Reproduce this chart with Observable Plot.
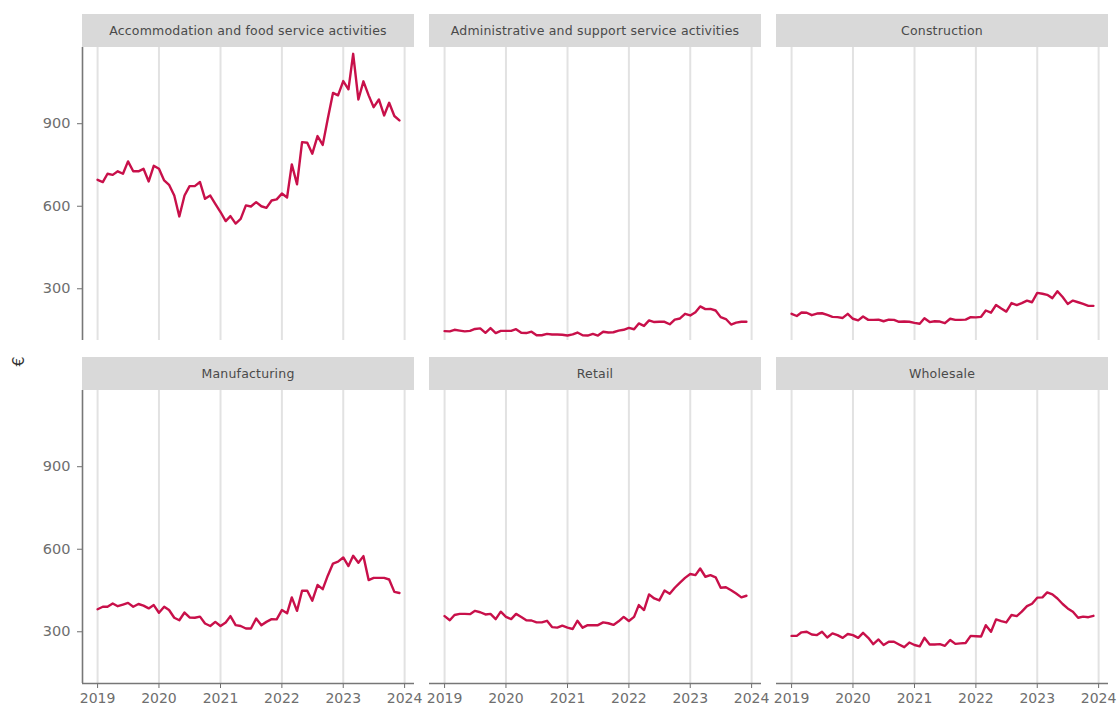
<!DOCTYPE html>
<html><head><meta charset="utf-8">
<script src="https://cdn.jsdelivr.net/npm/d3@7"></script>
<script src="https://cdn.jsdelivr.net/npm/@observablehq/plot@0.6"></script>
<style>
body{margin:0;background:#fff;font-family:"DejaVu Sans",sans-serif;}
#chart{position:relative;width:1120px;height:707px;overflow:hidden;}
.strip{position:absolute;background:#d9d9d9;color:#4a4a4a;font-size:12.5px;letter-spacing:0.2px;display:flex;align-items:center;justify-content:center;white-space:nowrap;}
.panel{position:absolute;}
.panel svg{max-width:none !important;}
.ylab{position:absolute;left:8px;top:352px;font-size:16px;color:#333;transform:rotate(-90deg);transform-origin:center;width:20px;text-align:center;}
</style></head><body><div id="chart"></div>
<script>
// ---- data ----
const sectors = [
  "Accommodation and food service activities",
  "Administrative and support service activities",
  "Construction",
  "Manufacturing",
  "Retail",
  "Wholesale"
];
const startYear = 2019; // monthly values from Jan 2019 to Dec 2023
const accommodation = [696,688,718,714,727,718,763,727,727,736,690,747,
  736,694,678,639,563,639,673,673,688,627,639,609,
  579,546,564,537,554,603,599,615,600,594,621,625,
  646,632,752,680,833,831,791,855,823,918,1012,1003,
  1055,1025,1154,988,1054,1003,960,988,930,976,928,912];
const administrative = [146,145,151,148,145,147,154,156,140,157,139,147,
  147,147,153,140,139,144,131,131,136,134,134,133,
  130,134,141,131,130,136,130,144,141,142,148,151,
  158,153,174,165,185,179,180,180,171,188,192,209,
  203,215,236,226,227,221,197,190,170,177,180,180];
const construction = [209,201,214,213,204,210,211,205,198,197,194,209,
  191,185,199,187,187,188,182,188,187,180,181,180,
  176,173,193,179,182,181,175,191,187,187,188,197,
  196,198,221,213,241,228,217,248,241,248,257,251,
  285,282,278,266,291,270,245,257,251,245,238,238];
const manufacturing = [382,391,391,403,393,399,405,391,401,395,385,397,
  369,391,379,351,342,370,352,351,355,330,321,336,
  321,334,357,324,321,312,312,348,324,336,346,345,
  379,367,425,376,449,449,413,470,455,504,548,555,
  570,539,576,551,575,488,496,496,496,490,445,441];
const retail = [357,342,361,365,365,364,376,371,363,365,346,373,
  354,346,365,354,342,341,334,334,340,317,315,322,
  315,310,340,315,324,324,324,334,331,325,338,354,
  339,354,397,379,436,421,414,450,438,460,479,496,
  510,506,530,500,506,498,460,462,451,439,425,431];
const wholesale = [285,285,298,300,290,288,300,279,294,288,278,292,
  288,278,296,278,255,272,252,264,264,254,244,261,
  252,247,278,254,254,255,249,270,256,258,259,285,
  284,283,324,300,345,339,334,361,357,373,393,402,
  424,425,443,436,421,401,385,373,351,355,353,358];
const seriesList = [accommodation, administrative, construction, manufacturing, retail, wholesale];
const yTicks = [300, 600, 900];
const yearTicks = [2019, 2020, 2021, 2022, 2023, 2024];

// ---- layout ----
const chart = document.getElementById("chart");
const colX = [82, 429, 776];
const rowY = [47, 390];
const PW = 332, PH = 293, SH = 33;
const lineColor = "#c8104a";
const fontFam = '"DejaVu Sans", sans-serif';

const yearDates = yearTicks.map(y => new Date(Date.UTC(y, 0, 1)));
const first = new Date(Date.UTC(startYear, 0, 1));
const last = new Date(Date.UTC(startYear, accommodation.length - 1, 1));
const pad = (last - first) * 0.05;
const xDomain = [new Date(+first - pad), new Date(+last + pad)];
const yDomain = [112, 1177];

sectors.forEach((name, i) => {
  const r = Math.floor(i / 3), c = i % 3;
  const showY = c === 0, showX = r === 1;
  const data = seriesList[i].map((v, k) => ({date: new Date(Date.UTC(startYear, k, 1)), value: v}));
  const ml = showY ? 70 : 0, mr = 30, mb = showX ? 25 : 0;
  const W = PW + ml + mr, H = PH + mb;

  const strip = document.createElement("div");
  strip.className = "strip";
  strip.style.left = colX[c] + "px";
  strip.style.top = (rowY[r] - SH) + "px";
  strip.style.width = PW + "px";
  strip.style.height = SH + "px";
  strip.textContent = name;
  chart.appendChild(strip);

  const svg = Plot.plot({
    width: W,
    height: H,
    marginLeft: ml, marginRight: mr, marginTop: 0, marginBottom: mb,
    x: {type: "utc", domain: xDomain, axis: null},
    y: {domain: yDomain, axis: null},
    style: {background: "transparent", overflow: "visible", fontFamily: fontFam, fontSize: "14px", color: "#6e6e6e", maxWidth: "none"},
    marks: [
      Plot.gridX(yearDates, {stroke: "#e2e2e2", strokeOpacity: 1, strokeWidth: 2}),
      showY ? Plot.axisY(yTicks, {tickSize: 5, tickPadding: 7, label: null, fontSize: 14.5}) : null,
      showY ? Plot.ruleX([xDomain[0]], {stroke: "#777", strokeWidth: 1.6}) : null,
      showX ? Plot.axisX(yearDates, {tickSize: 5, tickPadding: 5, label: null, tickFormat: d3.utcFormat("%Y"), fontSize: 14}) : null,
      showX ? Plot.ruleY([yDomain[0]], {stroke: "#777", strokeWidth: 1.6}) : null,
      Plot.line(data, {x: "date", y: "value", stroke: lineColor, strokeWidth: 2.4})
    ]
  });
  const holder = document.createElement("div");
  holder.className = "panel";
  holder.style.left = (colX[c] - ml) + "px";
  holder.style.top = rowY[r] + "px";
  holder.style.width = W + "px";
  holder.style.height = H + "px";
  holder.appendChild(svg);
  chart.appendChild(holder);
});

const ylab = document.createElement("div");
ylab.className = "ylab";
ylab.textContent = "€";
chart.appendChild(ylab);
</script></body></html>
